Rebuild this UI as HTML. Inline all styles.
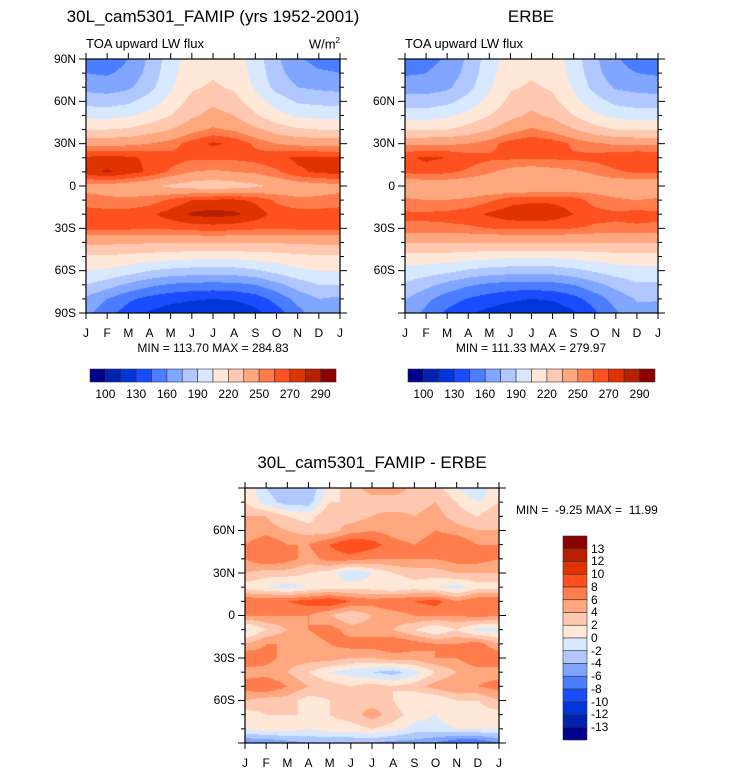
<!DOCTYPE html>
<html><head><meta charset="utf-8">
<style>
body{margin:0;background:#fff;width:733px;height:773px;overflow:hidden;font-family:"Liberation Sans",sans-serif;}
#root{position:relative;width:733px;height:773px;}
.t{position:absolute;white-space:pre;color:#000;}
canvas{position:absolute;}
svg{position:absolute;left:0;top:0;}
</style></head><body>
<div id="root">
<svg id="ax" width="733" height="773"></svg>
</div>
<script>
const months=["J","F","M","A","M","J","J","A","S","O","N","D","J"];
const lats=[90,80,70,60,50,40,30,20,10,0,-10,-20,-30,-40,-50,-60,-70,-80,-90];
const modelVals=[
[155,150,160,178,198,212,215,212,198,178,162,155],
[160,158,165,180,200,215,218,215,200,180,168,162],
[170,168,172,185,203,218,222,218,203,185,175,172],
[185,183,187,197,210,225,232,225,212,198,188,186],
[200,200,203,210,220,232,240,235,222,210,203,200],
[220,220,222,228,235,245,252,248,238,228,222,220],
[245,245,247,250,255,265,272,268,258,250,247,245],
[272,274,272,268,265,262,262,262,264,268,272,272],
[275,282,275,268,258,250,248,250,252,258,268,272],
[245,245,242,238,232,228,225,228,232,238,242,245],
[255,252,252,255,262,270,272,272,268,258,252,252],
[265,265,265,268,275,282,284,282,276,266,265,265],
[262,262,262,262,262,264,265,264,262,262,262,262],
[238,238,238,236,236,236,236,236,236,236,238,238],
[218,218,216,214,212,210,210,210,212,214,216,218],
[205,203,198,190,186,184,183,184,188,195,202,205],
[190,182,172,164,158,156,155,156,160,170,182,190],
[172,160,148,140,135,132,130,132,138,150,165,175],
[165,150,138,128,122,118,114,116,125,138,155,168]];
const erbeVals=[
[150,155,162,178,198,212,215,212,198,178,162,152],
[158,160,166,180,200,215,218,215,200,180,166,160],
[168,168,172,185,203,218,222,218,203,185,173,170],
[182,182,186,196,210,224,230,224,210,196,186,183],
[198,198,202,210,220,230,238,232,220,208,200,198],
[218,218,220,226,234,245,252,246,236,226,220,218],
[248,248,248,250,256,265,268,266,258,252,248,248],
[268,272,270,265,262,262,262,262,262,264,268,270],
[262,265,262,258,252,245,242,245,248,252,258,262],
[238,238,240,238,236,235,235,235,238,242,240,238],
[252,250,250,252,258,266,268,268,265,256,252,250],
[262,262,263,266,272,276,278,276,270,264,262,264],
[258,258,258,258,260,262,262,262,260,258,258,258],
[236,236,236,236,236,236,236,236,236,236,236,236],
[214,214,214,212,210,208,208,208,210,212,214,214],
[200,198,194,188,184,182,181,182,186,192,198,200],
[188,180,170,162,157,154,154,155,160,170,180,188],
[176,164,152,144,138,133,130,132,140,152,166,176],
[170,156,142,132,125,120,116,118,128,142,158,172]];
const diffVals=[
[2,-2,-4,-4,1,3,5,6,3,3,0,-2],
[2,-1,-3,-3,2,2,3,2,3,4,2,0],
[4,4,2,1,4,3,4,5,4,5,3,2],
[4,5,4,3,3,5,6,5,4,6,5,4],
[6,8,6,6,8,10,9,7,6,8,8,6],
[6,8,7,5,7,7,6,6,6,6,7,7],
[4,3,3,2,1,-2,0,2,3,3,4,4],
[1,0,-1,0,1,1,1,0,1,0,-1,1],
[8,8,8,9,10,8,7,8,8,9,6,8],
[6,6,6,6,4,2,4,5,6,6,6,7],
[-1,2,4,6,7,5,5,4,2,0,2,-1],
[4,6,6,5,6,7,7,8,7,6,6,7],
[8,7,5,5,5,4,4,5,5,6,6,8],
[5,5,4,2,0,-1,-2,-3,-1,2,4,5],
[7,8,6,4,3,2,3,2,3,5,6,6],
[4,3,3,1,2,3,3,2,0,0,2,2],
[1,2,2,2,2,3,5,3,1,0,2,1],
[0,1,1,0,1,1,2,1,-1,-1,0,0],
[-6,-6,-5,-4,-4,-4,-4,-5,-5,-6,-8,-8]];
const fluxLevels=[100,115,130,145,160,175,190,205,220,235,250,260,270,280,290];
const fluxTickLabels=["100","130","160","190","220","250","270","290"];
const diffLevels=[-13,-12,-10,-8,-6,-4,-2,0,2,4,6,8,10,12,13];
const diffTickLabels=["13","12","10","8","6","4","2","0","-2","-4","-6","-8","-10","-12","-13"];
const colors=["#000090","#0022b0","#0036d8","#1a4cff","#4a7dff","#80a6ff","#b0c8ff","#d8e8ff","#ffe8d8","#ffc8b0","#ffa880","#ff7d4c","#ff5020","#e03400","#b82000","#8c0000"];
const NS="http://www.w3.org/2000/svg";
const root=document.getElementById('root'),ax=document.getElementById('ax');
function hex(c){return [parseInt(c.substr(1,2),16),parseInt(c.substr(3,2),16),parseInt(c.substr(5,2),16)];}
const rgb=colors.map(hex);
function lvl(v,levels){let i=0;while(i<levels.length&&v>=levels[i])i++;return i;}
function txt(x,y,s,size,anchor,name){const d=document.createElement('div');d.className='t';d.textContent=s;d.style.fontSize=size+'px';d.style.top=(y-size*0.6)+'px';
 if(anchor==='middle'){d.style.left=x+'px';d.style.transform='translateX(-50%)';}else if(anchor==='end'){d.style.right=(733-x)+'px';}else d.style.left=x+'px';
 
 
 root.appendChild(d);return d;}
function line(x1,y1,x2,y2,w){const l=document.createElementNS(NS,'line');l.setAttribute('x1',x1);l.setAttribute('y1',y1);l.setAttribute('x2',x2);l.setAttribute('y2',y2);l.setAttribute('stroke','#000');l.setAttribute('stroke-width',w||1);ax.appendChild(l);return l;}
function field(vals,L,T,W,H,levels,name){
 const c=document.createElement('canvas');c.width=W;c.height=H;c.style.left=L+'px';c.style.top=T+'px';
 
 
 root.insertBefore(c,ax);
 const ctx=c.getContext('2d'),img=ctx.createImageData(W,H);
 const nr=lats.length;
 for(let py=0;py<H;py++){const fy=(py+0.5)/H*(nr-1);const r0=Math.min(Math.floor(fy),nr-2),ty=fy-r0;
  for(let px=0;px<W;px++){const fx=(px+0.5)/W*12;const c0=Math.floor(fx)%12,c1=(c0+1)%12,tx=fx-Math.floor(fx);
   const v=(vals[r0][c0]*(1-tx)+vals[r0][c1]*tx)*(1-ty)+(vals[r0+1][c0]*(1-tx)+vals[r0+1][c1]*tx)*ty;
   const k=rgb[lvl(v,levels)],o=(py*W+px)*4;img.data[o]=k[0];img.data[o+1]=k[1];img.data[o+2]=k[2];img.data[o+3]=255;}}
 ctx.putImageData(img,0,0);
}
function frame(L,T,W,H,latLabels,prefix){
 const r=document.createElementNS(NS,'rect');r.setAttribute('x',L);r.setAttribute('y',T);r.setAttribute('width',W);r.setAttribute('height',H);r.setAttribute('fill','none');r.setAttribute('stroke','#000');r.setAttribute('stroke-width',1.2);ax.appendChild(r);
 months.forEach((m,i)=>{const x=L+i/12*W;line(x,T+H,x,T+H+6);line(x,T,x,T-6);txt(x,T+H+20,m,12,'middle',prefix+'-x-tick-'+i);});
 lats.forEach(la=>{const y=T+(90-la)/180*H;const maj=la%30===0;const len=maj?7:4;line(L-len,y,L,y);line(L+W,y,L+W+len,y);
  if(maj){const s=la===0?'0':(Math.abs(la)+(la>0?'N':'S'));if(latLabels.includes(s))txt(L-10,y,s,12,'end',prefix+'-y-tick-'+s);}});
}
function hbar(L,T,W,H,prefix){const n=colors.length,bw=W/n;
 colors.forEach((c,i)=>{const r=document.createElementNS(NS,'rect');r.setAttribute('x',L+i*bw);r.setAttribute('y',T);r.setAttribute('width',bw);r.setAttribute('height',H);r.setAttribute('fill',c);r.setAttribute('stroke','#333');r.setAttribute('stroke-width',0.6);
  
  
  ax.appendChild(r);});
 fluxTickLabels.forEach((s,j)=>txt(L+(2*j+1)*bw,T+25,s,12,'middle',prefix+'-colorbar-label'));}
field(modelVals,86,59,254,254,fluxLevels,'model-contour');
frame(86,59,254,254,["90N","60N","30N","0","30S","60S","90S"],'model');
txt(213,17,"30L_cam5301_FAMIP (yrs 1952-2001)",17,'middle','model-title');
txt(86,44,"TOA upward LW flux",13,'start','model-subtitle');
const u=txt(340,44,"",13,'end','units-label');u.innerHTML='W/m<sup style="font-size:8px">2</sup>';
txt(213,348,"MIN = 113.70 MAX = 284.83",12,'middle','model-min-max');
hbar(90,369,246,13,'model');
field(erbeVals,405,59,253,254,fluxLevels,'erbe-contour');
frame(405,59,253,254,["60N","30N","0","30S","60S"],'erbe');
txt(531,17,"ERBE",17,'middle','erbe-title');
txt(405,44,"TOA upward LW flux",13,'start','erbe-subtitle');
txt(531,348,"MIN = 111.33 MAX = 279.97",12,'middle','erbe-min-max');
hbar(408,369,247,13,'erbe');
field(diffVals,245,488,254,255,diffLevels,'diff-contour');
frame(245,488,254,255,["60N","30N","0","30S","60S"],'diff');
txt(372,463,"30L_cam5301_FAMIP - ERBE",17,'middle','diff-title');
txt(516,510,"MIN =  -9.25 MAX =  11.99",12,'start','diff-min-max');
(function(){const L=563,T=536,W=24,bh=204/16;const rev=colors.slice().reverse();
 rev.forEach((c,i)=>{const r=document.createElementNS(NS,'rect');r.setAttribute('x',L);r.setAttribute('y',T+i*bh);r.setAttribute('width',W);r.setAttribute('height',bh);r.setAttribute('fill',c);r.setAttribute('stroke','#333');r.setAttribute('stroke-width',0.6);
  
  
  ax.appendChild(r);});
 diffTickLabels.forEach((s,j)=>txt(L+W+4,T+(j+1)*bh,s,12,'start','diff-colorbar-label'));})();
</script>
</body></html>
